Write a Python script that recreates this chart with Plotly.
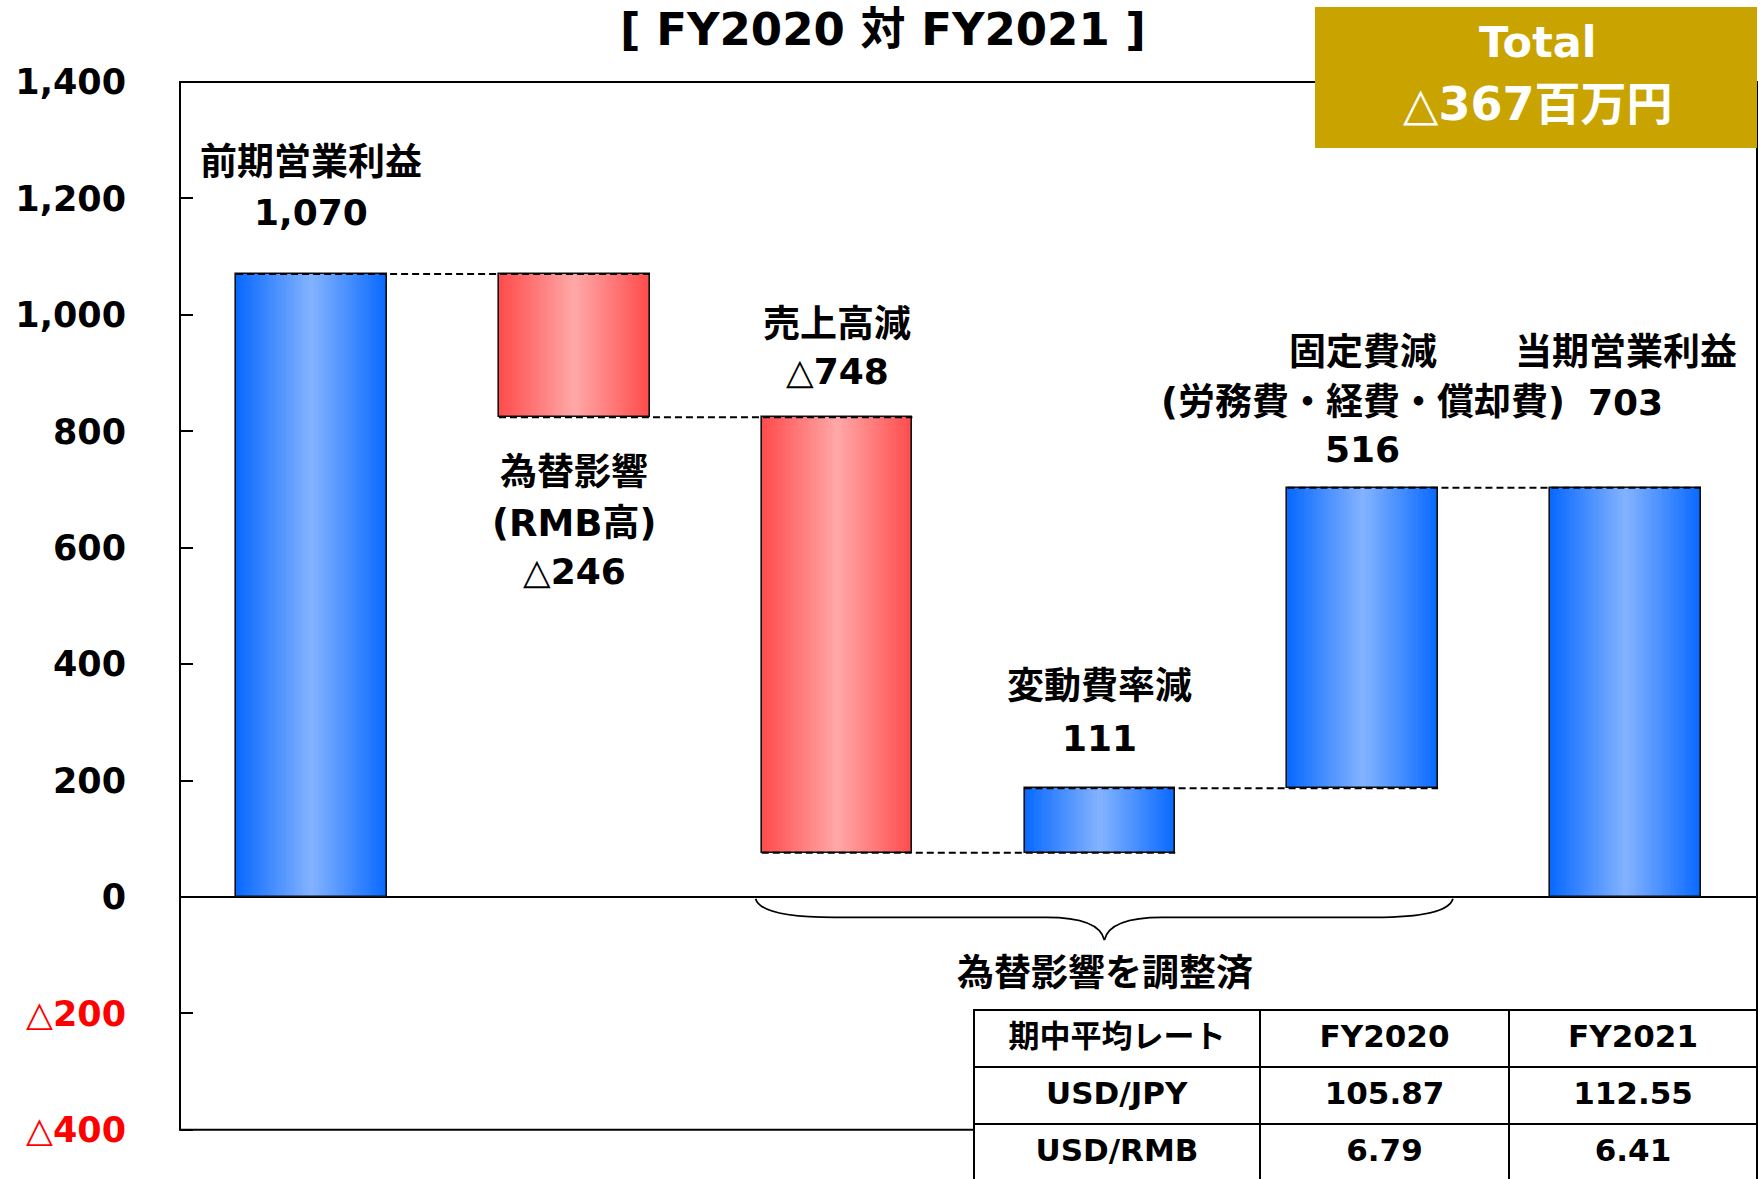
import plotly.graph_objects as go

# ---------------- data ----------------
categories = ["前期営業利益", "為替影響", "売上高減", "変動費率減", "固定費減", "当期営業利益"]
values = [1070, -246, -748, 111, 516, 703]
is_total = [True, False, False, False, False, True]
name_lines = [["前期営業利益"], ["為替影響", "(RMB高)"], ["売上高減"], ["変動費率減"],
              ["固定費減", "(労務費・経費・償却費)"], ["当期営業利益"]]
y_tick_vals = [-400, -200, 0, 200, 400, 600, 800, 1000, 1200, 1400]
rate_header = ["期中平均レート", "FY2020", "FY2021"]
rate_pairs = ["USD/JPY", "USD/RMB"]
rate_fy2020 = ["105.87", "6.79"]
rate_fy2021 = ["112.55", "6.41"]
total_change = -367
title_text = "[ FY2020 対 FY2021 ]"
brace_text = "為替影響を調整済"

# ---------------- layout constants ----------------
W = 0.573
Y_MIN, Y_MAX = -484.4, 1400
FONT = "DejaVu Sans, Noto Sans CJK JP"
TRI = '<span style="font-weight:normal">△</span>'


def fmt(v):
    s = format(abs(v), ",")
    return (TRI + s) if v < 0 else s


def tick_fmt(v):
    if v < 0:
        return '<span style="color:#FF0000">' + TRI + format(abs(v), ",") + '</span>'
    return format(v, ",")


# waterfall geometry
bases, heights, levels = [], [], []
running = 0
for v, t in zip(values, is_total):
    if t:
        bases.append(0)
        heights.append(v)
        running = v
    else:
        bases.append(running if v >= 0 else running + v)
        heights.append(abs(v))
        running += v
    levels.append(running)

xs = list(range(len(categories)))
EDGE_BLUE, MID_BLUE = (10, 106, 255), (130, 178, 255)
EDGE_RED, MID_RED = (255, 77, 77), (255, 166, 166)


def lerp(a, b, f):
    return "rgb(%d,%d,%d)" % tuple(round(a[i] + (b[i] - a[i]) * f) for i in range(3))


fig = go.Figure()
N = 28
for k in range(N):
    f = k / (N - 1)
    cols = []
    for v, t in zip(values, is_total):
        if t or v >= 0:
            cols.append(lerp(EDGE_BLUE, MID_BLUE, f))
        else:
            cols.append(lerp(EDGE_RED, MID_RED, f))
    fig.add_trace(go.Bar(x=xs, y=heights, base=bases, width=W * (1 - k / N),
                         marker=dict(color=cols, line=dict(width=0)),
                         hoverinfo="skip", showlegend=False))
# outline
fig.add_trace(go.Bar(x=xs, y=heights, base=bases, width=W,
                     marker=dict(color="rgba(0,0,0,0)", line=dict(color="#111", width=1.6)),
                     showlegend=False, hoverinfo="skip"))

# dashed connectors
for i in range(len(categories) - 1):
    fig.add_trace(go.Scatter(x=[xs[i] - W / 2, xs[i + 1] + W / 2], y=[levels[i], levels[i]],
                             mode="lines", line=dict(color="#000", width=2, dash="7px,4px"),
                             showlegend=False, hoverinfo="skip"))

# ---------------- annotations ----------------
name_y = [[1261], [730, 642], [984], [361], [936, 850], [936]]
value_y = [1175, 560, 902, 273, 768, 849]
ann = []
for i in range(len(categories)):
    for line, yy in zip(name_lines[i], name_y[i]):
        ann.append(dict(x=xs[i], y=yy, xref="x", yref="y", text="<b>" + line + "</b>",
                        xanchor="center", yanchor="middle",
                        showarrow=False, font=dict(family=FONT, size=37, color="#000")))
    ann.append(dict(x=xs[i], y=value_y[i], xref="x", yref="y", text="<b>" + fmt(values[i]) + "</b>",
                    xanchor="center", yanchor="middle",
                    showarrow=False, font=dict(family=FONT, size=36, color="#000")))

ann.append(dict(x=3.02, y=-131, xref="x", yref="y", text="<b>" + brace_text + "</b>",
                xanchor="center", yanchor="middle",
                showarrow=False, font=dict(family=FONT, size=37, color="#000")))


def py(pix):  # pixel row -> paper y
    return (1179 - pix) / 1097


def px(pix):
    return (pix - 180) / 1577


ann.append(dict(x=px(883), y=py(29), xref="paper", yref="paper", text="<b>" + title_text + "</b>",
                xanchor="center", yanchor="middle",
                showarrow=False, font=dict(family=FONT, size=45, color="#000")))
ann.append(dict(x=px(1537), y=py(42), xref="paper", yref="paper", text="<b>Total</b>",
                xanchor="center", yanchor="middle",
                showarrow=False, font=dict(family=FONT, size=43, color="#fff")))
ann.append(dict(x=px(1537), y=py(104), xref="paper", yref="paper",
                text="<b>" + TRI + format(abs(total_change), ",") + "百万円</b>",
                xanchor="center", yanchor="middle",
                showarrow=False, font=dict(family=FONT, size=46, color="#fff")))

# ---------------- shapes ----------------
def yp(v):
    return (v - Y_MIN) / (Y_MAX - Y_MIN)


tbl_left = px(974)
shapes = [
    dict(type="path", xref="paper", yref="paper", layer="above",
         path="M %f,%f L 0,%f L 0,1 L 1,1 L 1,%f" % (tbl_left, yp(-400), yp(-400), yp(-400)),
         line=dict(color="#000", width=2)),
    dict(type="rect", xref="paper", yref="paper", layer="above",
         x0=px(1315), x1=1.0, y0=py(148), y1=py(7), fillcolor="#C9A400", line=dict(width=0)),
]
bx0, bx1, bm = 1.69, 4.343, 3.017
brace = ("M %f,-3 Q %f,-35 %f,-35 L %f,-35 Q %f,-35 %f,-74 Q %f,-35 %f,-35 L %f,-35 Q %f,-35 %f,-3"
         % (bx0, bx0 + 0.02, bx0 + 0.3, bm - 0.22, bm - 0.02, bm, bm + 0.02, bm + 0.22,
            bx1 - 0.3, bx1 - 0.02, bx1))
shapes.append(dict(type="path", xref="x", yref="y", path=brace, layer="above",
                   line=dict(color="#000", width=1.8)))

# ---------------- table ----------------
TFONT = dict(family="DejaVu Sans, Noto Sans CJK JP", size=31, color="#000")
fig.add_trace(go.Table(
    domain=dict(x=[tbl_left, 1.0], y=[0, py(1010)]),
    columnwidth=[286, 249, 248],
    header=dict(values=["<b>" + h + "</b>" for h in rate_header], height=57,
                fill_color="#fff", line=dict(color="#000", width=2), align="center",
                font=TFONT),
    cells=dict(values=[["<b>" + s + "</b>" for s in col] for col in [rate_pairs, rate_fy2020, rate_fy2021]],
               height=57, fill_color="#fff", line=dict(color="#000", width=2), align="center",
               font=TFONT),
))

fig.update_layout(
    width=1764, height=1179, margin=dict(l=180, r=7, t=82, b=0),
    paper_bgcolor="#fff", plot_bgcolor="#fff", barmode="overlay", bargap=0,
    annotations=ann, shapes=shapes, showlegend=False,
    font=dict(family=FONT, color="#000"),
)
fig.update_xaxes(range=[-0.5, 5.5], showgrid=False, zeroline=False, showline=False,
                 showticklabels=False, ticks="", fixedrange=True)
fig.update_yaxes(range=[Y_MIN, Y_MAX], tickvals=y_tick_vals,
                 ticktext=["<b>" + tick_fmt(v) + "</b>" for v in y_tick_vals],
                 tickfont=dict(family=FONT, size=35, color="#000"),
                 ticks="inside", ticklen=13, tickwidth=2, tickcolor="#000",
                 showgrid=False, showline=False, zeroline=True, zerolinecolor="#000",
                 zerolinewidth=2, ticklabelstandoff=53, fixedrange=True)

fig.write_html("out.html", config={"displayModeBar": False},
               post_script="document.body.style.margin='0';document.body.style.overflow='hidden';")
